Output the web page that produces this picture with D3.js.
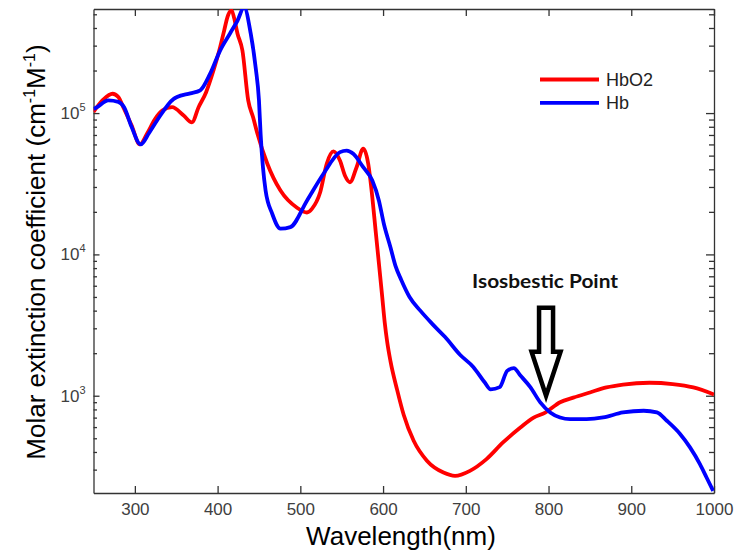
<!DOCTYPE html>
<html>
<head>
<meta charset="utf-8">
<script src="https://cdn.jsdelivr.net/npm/d3@7"></script>
<style>
  body { margin: 0; background: #fff; }
  svg { display: block; }
  .axis text { font-family: "Liberation Sans", Arial, sans-serif; font-size: 17px; fill: #404040; }
  .axis path, .axis line { stroke: #333; stroke-width: 1.3; }
</style>
</head>
<body>
<svg id="chart" width="736" height="554"></svg>
<script>
// HbO2 (oxy) spectrum
var hbo2Wl  = [250, 262, 273, 280, 286, 296, 306, 315, 324, 333, 345, 359, 369, 377, 386, 395, 402, 408, 412, 417, 420, 424, 430, 437, 443, 448, 460, 476, 496, 508, 514, 524, 532, 540, 548, 554, 560, 568, 576, 582, 587, 591, 595, 599, 602, 605, 609, 617, 625, 637, 653, 673, 687, 705, 725, 745, 766, 782, 796, 814, 830, 850, 870, 890, 922, 950, 975, 1000];
var hbo2Val = [1.02e5, 1.25e5, 1.37e5, 1.30e5, 1.10e5, 8.2e4, 6.0e4, 7.2e4, 9.0e4, 1.04e5, 1.10e5, 9.6e4, 8.6e4, 1.1e5, 1.40e5, 2.0e5, 2.77e5, 3.85e5, 4.8e5, 5.33e5, 4.7e5, 3.66e5, 2.77e5, 1.23e5, 9.3e4, 7.2e4, 4.4e4, 2.83e4, 2.14e4, 1.98e4, 2.1e4, 2.75e4, 4.4e4, 5.35e4, 4.6e4, 3.6e4, 3.24e4, 4.14e4, 5.6e4, 4.4e4, 2.54e4, 1.47e4, 8.6e3, 5.0e3, 3.3e3, 2.4e3, 1.75e3, 1.1e3, 7.3e2, 4.8e2, 3.47e2, 2.86e2, 2.71e2, 2.94e2, 3.56e2, 4.67e2, 5.96e2, 7.0e2, 7.6e2, 9.0e2, 9.7e2, 1.055e3, 1.145e3, 1.2e3, 1.236e3, 1.21e3, 1.145e3, 1.02e3];

// Hb (deoxy) spectrum
var hbWl  = [250, 253, 268, 280, 287, 296, 307, 317, 327, 347, 351, 367, 379, 391, 403, 415, 424, 432, 440, 446, 450, 452, 458, 466, 476, 488, 508, 528, 548, 556, 564, 576, 587, 595, 601, 609, 615, 622, 632, 645, 660, 675, 693, 709, 723, 730, 741, 750, 758, 766, 778, 790, 802, 814, 826, 846, 866, 890, 915, 931, 943, 959, 971, 983, 991, 999];
var hbVal = [1.07e5, 1.09e5, 1.23e5, 1.2e5, 1.10e5, 8.0e4, 6.0e4, 7.2e4, 8.9e4, 1.26e5, 1.30e5, 1.38e5, 1.45e5, 1.9e5, 2.77e5, 3.66e5, 4.5e5, 5.6e5, 3.66e5, 2.1e5, 1.23e5, 7.1e4, 2.83e4, 1.94e4, 1.52e4, 1.56e4, 2.4e4, 3.72e4, 5.29e4, 5.43e4, 5.15e4, 4.14e4, 3.33e4, 2.4e4, 1.64e4, 1.12e4, 8.3e3, 6.6e3, 5.0e3, 4.0e3, 3.2e3, 2.6e3, 1.95e3, 1.6e3, 1.24e3, 1.11e3, 1.15e3, 1.5e3, 1.57e3, 1.39e3, 1.15e3, 8.97e2, 7.62e2, 7.02e2, 6.84e2, 6.84e2, 7.02e2, 7.62e2, 7.83e2, 7.62e2, 6.65e2, 5.36e2, 4.31e2, 3.28e2, 2.64e2, 2.12e2];

var xTicks = [300, 400, 500, 600, 700, 800, 900, 1000];
var yTicks = [1e3, 1e4, 1e5];
var seriesNames = ["HbO2", "Hb"];
var seriesColors = ["#ff0000", "#0000ff"];
var isosbestic = [797, 1000]; // arrow tip (nm, value)

var svg = d3.select("#chart");
var plotL = 93.5, plotR = 714, plotT = 9, plotB = 493;

var x = d3.scaleLinear().domain([250, 1000]).range([plotL, plotR]);
var y = d3.scaleLog().domain([205, 5.45e5]).range([plotB, plotT]);

// minor log ticks 2..9 per decade
var yMinor = [];
[100, 1000, 10000, 100000].forEach(function(d) {
  for (var k = 2; k <= 9; k++) {
    var v = d * k;
    if (v > y.domain()[0] && v < y.domain()[1]) yMinor.push(v);
  }
});

svg.append("defs").append("clipPath").attr("id", "plotclip")
  .append("rect").attr("x", plotL).attr("y", plotT)
  .attr("width", plotR - plotL).attr("height", plotB - plotT);

// axes (all four sides, ticks inward)
svg.append("g").attr("class", "axis")
  .attr("transform", "translate(0," + plotB + ")")
  .call(d3.axisBottom(x).tickValues(xTicks).tickFormat(d3.format("d"))
    .tickSizeInner(-7).tickSizeOuter(0).tickPadding(10));

svg.append("g").attr("class", "axis")
  .attr("transform", "translate(0," + plotT + ")")
  .call(d3.axisTop(x).tickValues(xTicks).tickSizeInner(-7).tickSizeOuter(0).tickFormat(""));

var yAxisL = svg.append("g").attr("class", "axis")
  .attr("transform", "translate(" + plotL + ",0)")
  .call(d3.axisLeft(y).tickValues(yTicks).tickSizeInner(-6).tickSizeOuter(0).tickPadding(8));

yAxisL.selectAll(".tick text").each(function(d) {
  var t = d3.select(this).text("");
  t.append("tspan").text("10");
  t.append("tspan").attr("dy", -8).style("font-size", "11px").text(Math.round(Math.log10(d)));
});

svg.append("g").attr("class", "axis")
  .attr("transform", "translate(" + plotL + ",0)")
  .call(d3.axisLeft(y).tickValues(yMinor).tickSizeInner(-3.5).tickSizeOuter(0).tickFormat(""))
  .select(".domain").remove();

svg.append("g").attr("class", "axis")
  .attr("transform", "translate(" + plotR + ",0)")
  .call(d3.axisRight(y).tickValues(yTicks).tickSizeInner(-8).tickSizeOuter(0).tickFormat(""));

svg.append("g").attr("class", "axis")
  .attr("transform", "translate(" + plotR + ",0)")
  .call(d3.axisRight(y).tickValues(yMinor).tickSizeInner(-5).tickSizeOuter(0).tickFormat(""))
  .select(".domain").remove();

// curves
var line = d3.line()
  .x(function(d) { return x(d[0]); })
  .y(function(d) { return y(d[1]); })
  .curve(d3.curveMonotoneX);

var series = [d3.zip(hbo2Wl, hbo2Val), d3.zip(hbWl, hbVal)];

svg.append("g").attr("clip-path", "url(#plotclip)")
  .selectAll("path").data(series).enter().append("path")
    .attr("d", line)
    .attr("fill", "none")
    .attr("stroke", function(d, i) { return seriesColors[i]; })
    .attr("stroke-width", 3.8)
    .attr("stroke-linejoin", "round");

// legend
var leg = svg.append("g").selectAll("g").data(seriesNames).enter().append("g")
  .attr("transform", function(d, i) { return "translate(540," + (79.5 + i * 23.3) + ")"; });
leg.append("line").attr("x1", 0).attr("x2", 59)
  .attr("stroke", function(d, i) { return seriesColors[i]; }).attr("stroke-width", 3.8);
leg.append("text").attr("x", 66).attr("y", 6.3)
  .style("font-family", "Liberation Sans, Arial, sans-serif").style("font-size", "18px").attr("fill", "#222")
  .text(function(d) { return d; });

// axis titles
svg.append("text")
  .attr("x", 401).attr("y", 545)
  .attr("text-anchor", "middle")
  .style("font-family", "Liberation Sans, Arial, sans-serif").style("font-size", "26px")
  .text("Wavelength(nm)");

var yl = svg.append("text")
  .attr("transform", "translate(45,252) rotate(-90)")
  .attr("text-anchor", "middle")
  .style("font-family", "Liberation Sans, Arial, sans-serif").style("font-size", "26px");
yl.append("tspan").text("Molar extinction coefficient (cm");
yl.append("tspan").attr("dy", -10).style("font-size", "16px").text("-1");
yl.append("tspan").attr("dy", 10).text("M");
yl.append("tspan").attr("dy", -10).style("font-size", "16px").text("-1");
yl.append("tspan").attr("dy", 10).text(")");

// isosbestic annotation
var tx = x(isosbestic[0]), ty = y(isosbestic[1]);
var arrowPts = [[-7, -88], [7, -88], [7, -44], [14.5, -44], [0, 0], [-14.5, -44], [-7, -44]];
svg.append("path")
  .attr("d", "M" + arrowPts.map(function(p) { return (tx + p[0]) + "," + (ty + p[1]); }).join("L") + "Z")
  .attr("fill", "#fff").attr("stroke", "#000").attr("stroke-width", 4.5)
  .attr("stroke-linejoin", "miter");

svg.append("text")
  .attr("x", tx - 1).attr("y", 288)
  .attr("text-anchor", "middle")
  .attr("textLength", 146).attr("lengthAdjust", "spacingAndGlyphs")
  .style("font-family", "Lato, 'Open Sans', sans-serif").style("font-weight", "bold").style("font-size", "19px")
  .attr("fill", "#111")
  .text("Isosbestic Point");
</script>
</body>
</html>
